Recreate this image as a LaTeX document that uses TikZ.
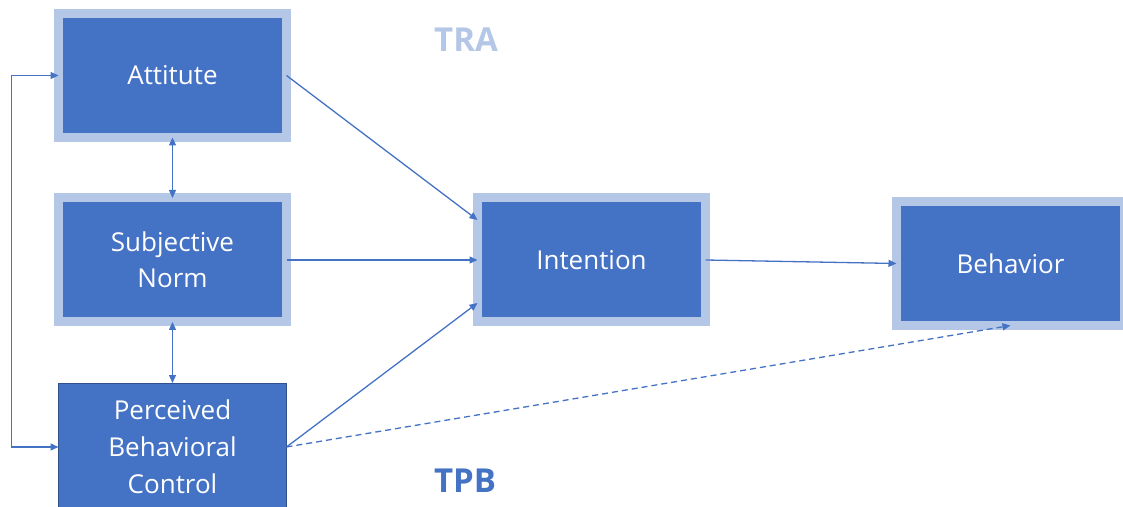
\documentclass[tikz,border=0pt]{standalone}
\usepackage{fontspec}
\setmainfont{Open Sans}
\usepackage{xcolor}
\usetikzlibrary{arrows.meta, positioning}
\definecolor{BoxBlue}{HTML}{4472C4}
\definecolor{RimBlue}{HTML}{B4C7E7}
\definecolor{EdgeBlue}{HTML}{2F528F}

\begin{document}
\begin{tikzpicture}[x=1pt,y=1pt,on grid,>={Triangle[length=8pt,width=7pt]},
        construct/.style={fill=BoxBlue,draw=RimBlue,line width=9pt,outer sep=0pt,
          minimum width=228pt,minimum height=124pt,text=white,align=center,
          font=\fontsize{26}{36}\selectfont},
        extra/.style={fill=BoxBlue,draw=EdgeBlue,line width=0.8pt,outer sep=0pt,
          minimum width=228pt,minimum height=128pt,text=white,align=center,
          font=\fontsize{26}{37}\selectfont},
        link/.style={draw=BoxBlue,line width=1.3pt},
        theory/.style={font=\fontsize{33}{36}\bfseries\selectfont}]
    \useasboundingbox (0,0) rectangle (1123,506);

      \node[construct] (att) at (172.5,430.5)         {Attitute};
      \node[construct] (norm) [below=184.5 of att]    {Subjective\\Norm};
      \node[extra]     (pbc)  [below=187 of norm]     {Perceived\\Behavioral\\Control};
      \node[construct] (int)  [right=419 of norm]     {Intention};
      \node[construct] (beh)  [right=419 of int, yshift=-3.5pt] {Behavior};

      \node[theory,text=RimBlue] (tra) at (466,466) {TRA};
      \node[theory,text=BoxBlue] (tpb) at (465,25)  {TPB};

      % the two models share these arrows
      \draw[link,<->] (pbc.west) -- ++(-47,0) |- (att.west);
      \draw[link,<->] (att.south) -- (norm.north);
      \draw[link,<->] (norm.south) -- (pbc.north);
      \draw[link,->] (att.east) -- ([yshift=40pt]int.west);
      \draw[link,->] (norm.east) -- (int.west);
      \draw[link,->] (pbc.east) -- ([yshift=-43pt]int.west);
      \draw[link,->] (int.east) -- (beh.west);
      \draw[link,->,dashed,dash pattern=on 6pt off 4pt] (pbc.east) -- (beh.south);
    \end{tikzpicture}
\end{document}
